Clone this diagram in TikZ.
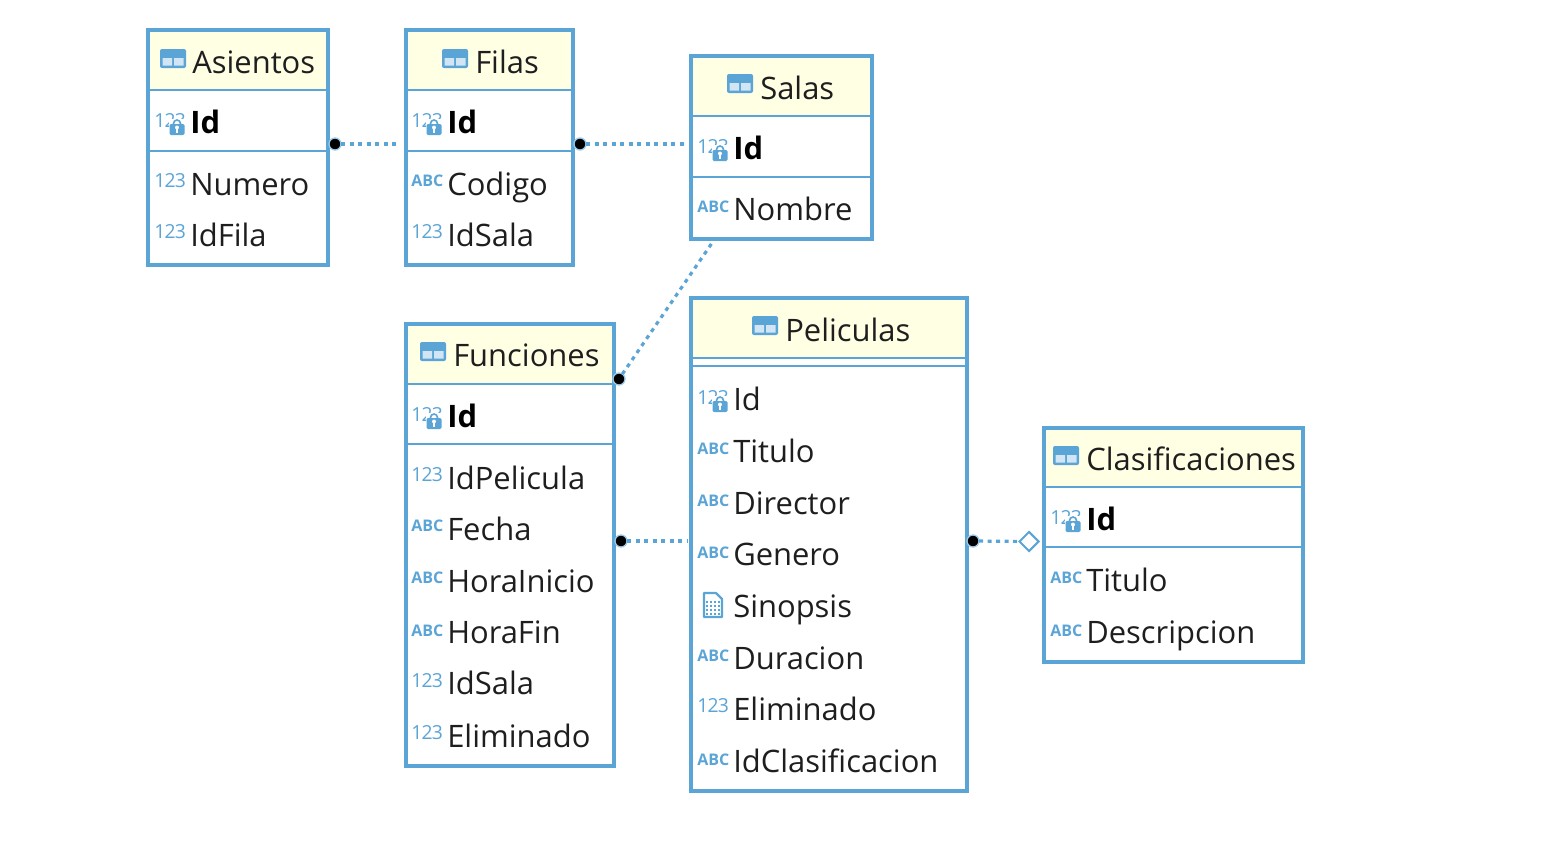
\documentclass[tikz,border=0pt]{standalone}
\usepackage{fontspec}
\setmainfont{Open Sans}
\usetikzlibrary{shapes.geometric,calc}
\definecolor{erblue}{HTML}{5BA4D6}
\definecolor{erhead}{HTML}{FFFFE4}
\definecolor{ertext}{HTML}{1E1E1E}
\tikzset{
  x=0.75pt,y=-0.75pt,
  tablebox/.style={draw=erblue,line width=2.3pt,inner sep=0pt,outer sep=0pt,rectangle,anchor=north west},
  headbox/.style={fill=erhead,draw=none,inner sep=0pt,outer sep=0pt,rectangle,anchor=north west},
  divider/.style={draw=erblue,line width=1.7pt},
  title/.style={anchor=base west,inner sep=0pt,xshift=-0.75pt,yshift=0.75pt,font=\fontsize{23.2}{26}\selectfont,text=ertext},
  field/.style={anchor=base west,inner sep=0pt,xshift=-0.75pt,yshift=0.2pt,font=\fontsize{23.2}{26}\selectfont,text=ertext},
  keyfield/.style={field,font=\fontsize{23.2}{26}\selectfont\bfseries,text=black},
  numtag/.style={anchor=base west,inner sep=0pt,font=\fontsize{14.5}{16}\selectfont\addfontfeatures{LetterSpace=-4},text=erblue},
  abctag/.style={anchor=base west,inner sep=0pt,font=\fontsize{12}{14}\selectfont\bfseries,text=erblue},
  reldot/.style={circle,fill=black,draw=erblue!60,line width=1pt,minimum size=9pt,inner sep=0pt,outer sep=0pt},
  relline/.style={draw=erblue,line width=2.4pt,dash pattern=on 3pt off 3.4pt},
  optdiamond/.style={diamond,draw=erblue,fill=white,line width=1.5pt,minimum width=15pt,minimum height=15pt,inner sep=0pt,aspect=1.1},
}
% #1 name, #2 x1, #3 y1, #4 x2, #5 y2, #6 header bottom
\newcommand{\ertable}[6]{%
  \path let \p1=(#2,#3),\p2=(#4,#5),\p3=(#4,#6) in
    node[headbox,minimum width=\x2-\x1,minimum height=\y1-\y3] (#1head) at (#2,#3) {}
    node[tablebox,minimum width=\x2-\x1,minimum height=\y1-\y2] (#1) at (#2,#3) {};
}
\newcommand{\erdiv}[2]{\draw[divider] (#1.west |- 0,#2) -- (#1.east |- 0,#2);}
\newcommand{\tblicon}[2]{%
  \begin{scope}[shift={(#1,#2)}]
    \fill[erblue,rounded corners=1.5pt] (0,-19) rectangle (26,0);
    \fill[erblue!28] (2.5,-10) rectangle (12,-2.5) (14,-10) rectangle (23.5,-2.5);
  \end{scope}}
\newcommand{\numicon}[3]{\node[numtag] (#1) at (#2,#3) {123};}
\newcommand{\abcicon}[3]{\node[abctag] (#1) at (#2,#3) {ABC};}
\newcommand{\keyicon}[3]{%
  \node[numtag] (#1) at (#2,#3) {123};
  \begin{scope}[shift={(#2,#3)}]
    \fill[white,rounded corners=1pt] (15,-8) rectangle (33,9);
    \draw[erblue,line width=1.2pt] (23,-3.5) circle (3.5);
    \fill[erblue,rounded corners=1pt] (15.5,-3) rectangle (30.5,8);
    \fill[white] (23,0.5) circle (2);
    \draw[white,line width=1.2pt] (23,1) -- (23,6);
  \end{scope}}
\newcommand{\docicon}[2]{%
  \begin{scope}[shift={(#1,#2)}]
    \draw[erblue,line width=1.6pt,line join=round,fill=white] (0,0) -- (12,0) -- (18,6) -- (18,24) -- (0,24) -- cycle;
    \foreach \yy in {9,13,17,21}{\foreach \xx in {3,7,11,15}{\fill[erblue] (\xx-1.1,\yy-1.2) rectangle (\xx+1.3,\yy+1.2);}}
  \end{scope}}
\begin{document}
\begin{tikzpicture}
\useasboundingbox (0,0) rectangle (1548,858);

% Asientos
\ertable{asientos}{148}{30}{328}{265}{90}
\erdiv{asientos}{90}\erdiv{asientos}{151}
\tblicon{160}{68}
\node[title] (asientosT) at (193,74) {Asientos};
\keyicon{asientosKI}{154}{127}
\node[keyfield] (asientosA) at (191,134) {Id};
\numicon{asientosBI}{154}{187}
\node[field] (asientosB) at (191,196) {Numero};
\numicon{asientosCI}{154}{238}
\node[field] (asientosC) at (191,247) {IdFila};

% Filas
\ertable{filas}{406}{30}{573}{265}{90}
\erdiv{filas}{90}\erdiv{filas}{151}
\tblicon{442}{68}
\node[title] (filasT) at (476,74) {Filas};
\keyicon{filasKI}{411}{127}
\node[keyfield] (filasA) at (448,134) {Id};
\abcicon{filasBI}{411}{186}
\node[field] (filasB) at (448,196) {Codigo};
\numicon{filasCI}{411}{238}
\node[field] (filasC) at (448,247) {IdSala};

% Salas
\ertable{salas}{691}{56}{872}{239}{116}
\erdiv{salas}{116}\erdiv{salas}{177}
\tblicon{727}{93}
\node[title] (salasT) at (761,100) {Salas};
\keyicon{salasKI}{697}{153}
\node[keyfield] (salasA) at (734,160) {Id};
\abcicon{salasBI}{697}{212}
\node[field] (salasB) at (734,221) {Nombre};

% Funciones
\ertable{funciones}{406}{324}{614}{766}{384}
\erdiv{funciones}{384}\erdiv{funciones}{444}
\tblicon{420}{361}
\node[title] (funcionesT) at (454,367) {Funciones};
\keyicon{funcionesKI}{411}{421}
\node[keyfield] (funcionesA) at (448,428) {Id};
\numicon{funcionesBI}{411}{481}
\node[field] (funcionesB) at (448,490) {IdPelicula};
\abcicon{funcionesCI}{411}{531}
\node[field] (funcionesC) at (448,541) {Fecha};
\abcicon{funcionesDI}{411}{583}
\node[field] (funcionesD) at (448,593) {HoraInicio};
\abcicon{funcionesEI}{411}{636}
\node[field] (funcionesE) at (448,644) {HoraFin};
\numicon{funcionesFI}{411}{687}
\node[field] (funcionesF) at (448,695) {IdSala};
\numicon{funcionesGI}{411}{739}
\node[field] (funcionesG) at (448,748) {Eliminado};

% Peliculas
\ertable{peliculas}{691}{298}{967}{791}{358}
\erdiv{peliculas}{358}\erdiv{peliculas}{366}
\tblicon{752}{335}
\node[title] (peliculasT) at (786,342) {Peliculas};
\keyicon{peliculasAI}{697}{404}
\node[field] (peliculasA) at (734,411) {Id};
\abcicon{peliculasBI}{697}{454}
\node[field] (peliculasB) at (734,463) {Titulo};
\abcicon{peliculasCI}{697}{506}
\node[field] (peliculasC) at (734,515) {Director};
\abcicon{peliculasDI}{697}{558}
\node[field] (peliculasD) at (734,566) {Genero};
\docicon{704}{593}
\node[field] (peliculasE) at (734,618) {Sinopsis};
\abcicon{peliculasFI}{697}{661}
\node[field] (peliculasF) at (734,670) {Duracion};
\numicon{peliculasGI}{697}{712}
\node[field] (peliculasG) at (734,721) {Eliminado};
\abcicon{peliculasHI}{697}{765}
\node[field] (peliculasH) at (734,773) {IdClasificacion};

% Clasificaciones
\ertable{clasif}{1044}{428}{1303}{662}{487}
\erdiv{clasif}{487}\erdiv{clasif}{547}
\tblicon{1053}{465}
\node[title] (clasifT) at (1087,471) {Clasificaciones};
\keyicon{clasifKI}{1050}{524}
\node[keyfield] (clasifA) at (1087,531) {Id};
\abcicon{clasifBI}{1050}{583}
\node[field] (clasifB) at (1087,592) {Titulo};
\abcicon{clasifCI}{1050}{636}
\node[field] (clasifC) at (1087,644) {Descripcion};

% Relationships
\coordinate (e1) at (400,144);
\coordinate (e2) at (687,144);
\coordinate (e3) at (712,243);
\coordinate (e4) at (687,541);
\node[optdiamond] (dia) at (1029,541.5) {};
\node[reldot] (d1) at (335,144) {};
\node[reldot] (d2) at (580,144) {};
\node[reldot] (d3) at (619,379) {};
\node[reldot] (d4) at (621,541) {};
\node[reldot] (d5) at (973,541) {};
\draw[relline] (d1) -- (e1);
\draw[relline] (d2) -- (e2);
\draw[relline] (d3) -- (e3);
\draw[relline] (d4) -- (e4);
\draw[relline] (d5) -- (dia);
\end{tikzpicture}
\end{document}
